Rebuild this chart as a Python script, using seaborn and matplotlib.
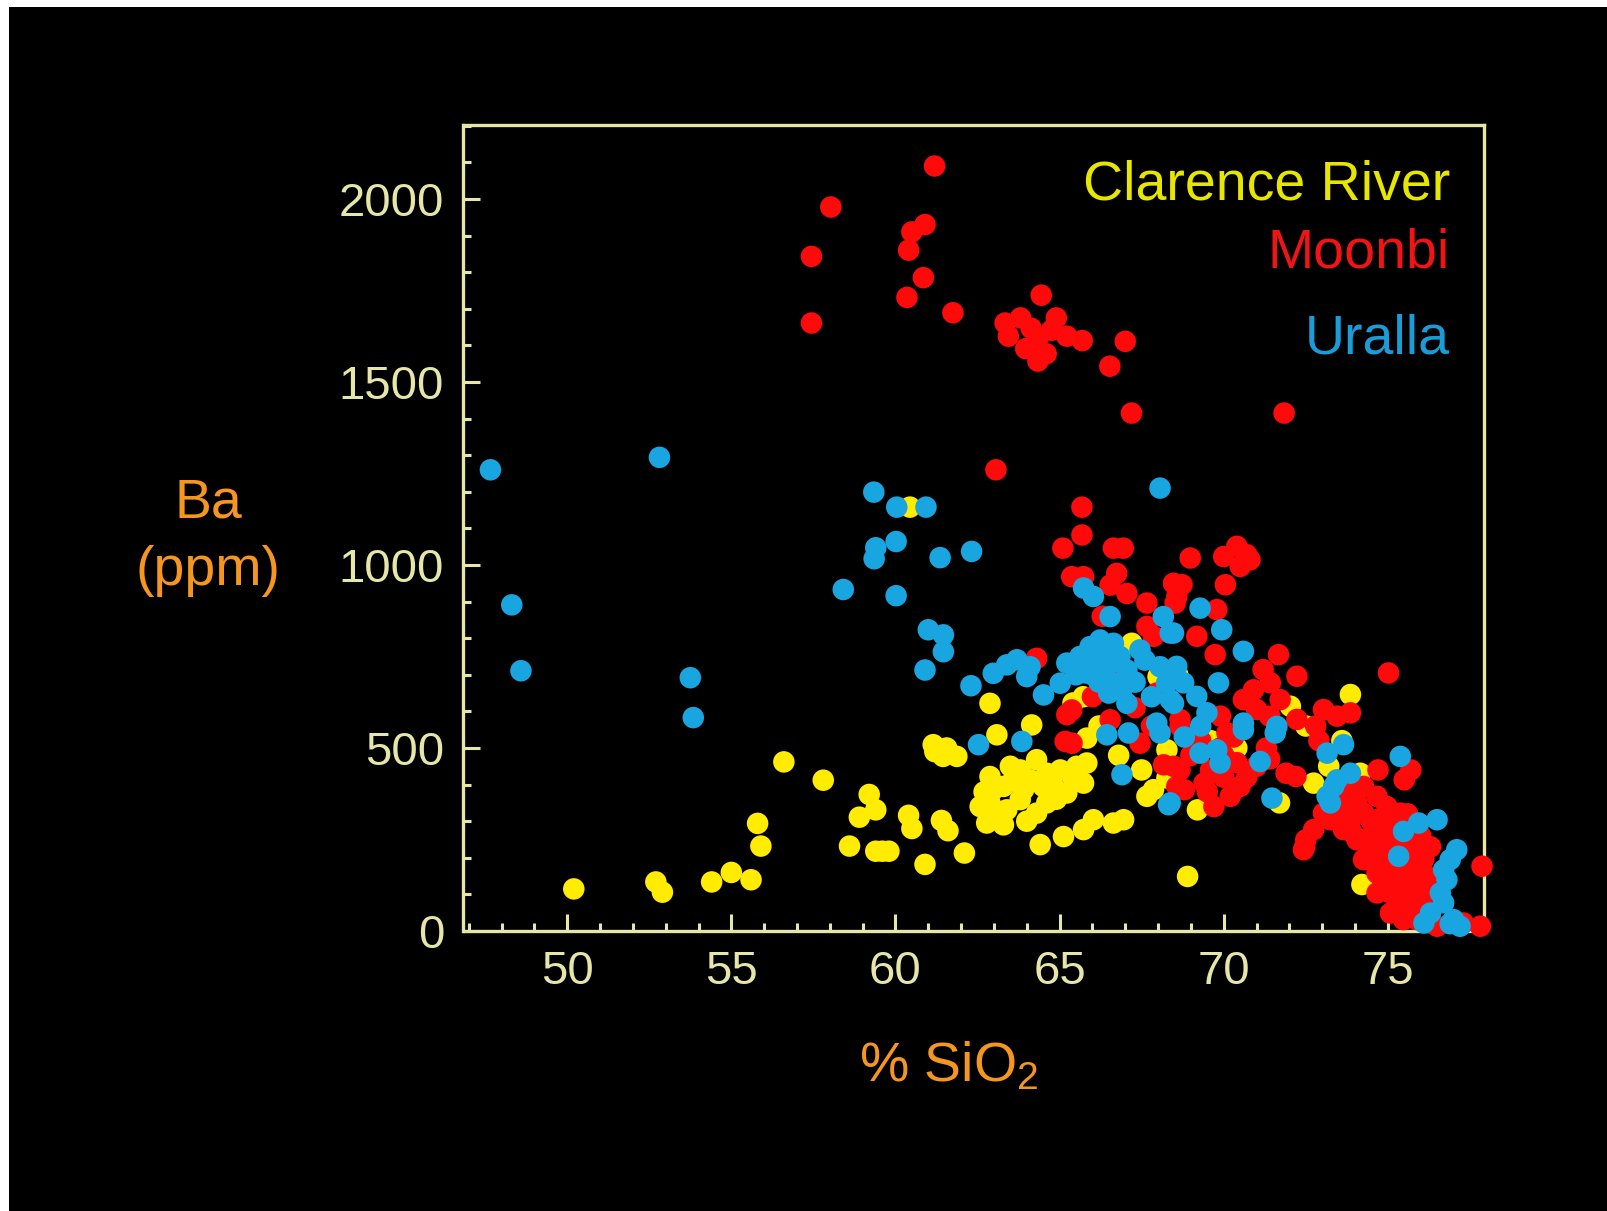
import numpy as np
import pandas as pd
import matplotlib
matplotlib.use("Agg")
import matplotlib.pyplot as plt
from matplotlib.patches import Rectangle
from matplotlib.ticker import MultipleLocator
import seaborn as sns

# ---------------- data ----------------
clarence_sio2 = [50.2, 52.7, 52.9, 54.4, 55.0, 55.6, 55.8, 55.9, 56.6, 57.8, 58.6, 58.9, 59.2, 59.4,
                 59.4, 59.6, 59.8, 60.4, 60.5, 60.9, 61.4, 61.6, 62.1, 60.44, 61.15, 61.56, 61.87, 61.45,
                 61.2, 63.09, 64.15, 62.88,
                 62.88, 63.29, 63.80, 64.30, 64.61, 65.02, 65.52, 65.73, 65.22, 64.61, 64.30, 63.80,
                 63.39, 62.88, 62.58, 62.78, 63.29, 63.90, 64.81, 65.83, 64.10, 62.98, 63.59, 63.1,
                 64.0, 64.9, 65.4, 62.7, 63.5, 64.5,
                 64.41, 65.12, 65.73, 66.03, 66.64, 66.95,
                 65.41, 65.72, 65.83, 67.2, 68.0, 67.5, 68.27, 67.66, 67.86, 68.27, 68.9, 69.2, 70.2,
                 71.7, 72.74, 72.03, 73.86, 74.16, 74.21, 73.6, 66.2, 66.8, 68.6, 69.6, 70.4, 72.5, 73.2]
clarence_ba = [115, 134, 106, 134, 160, 140, 294, 232, 462, 412, 232, 311, 373, 331,
               218, 218, 218, 316, 280, 182, 302, 274, 213, 1158, 509, 500, 477, 477,
               490, 536, 563, 622,
               422, 395, 440, 468, 431, 440, 450, 404, 377, 350, 322, 359,
               331, 350, 340, 295, 290, 386, 395, 459, 413, 386, 413, 310,
               300, 360, 420, 380, 450, 395,
               236, 258, 277, 304, 295, 304,
               623, 640, 527, 786, 695, 440, 495, 368, 386, 418, 149, 331, 468,
               350, 404, 614, 646, 431, 127, 520, 560, 480, 700, 520, 500, 560, 450]

moonbi_sio2 = [61.19, 58.03, 57.44, 57.44, 60.5, 60.9, 60.4, 60.85, 60.35, 61.75, 63.34, 63.44, 64.44,
               63.81, 64.13, 64.34, 64.75, 65.22, 65.69, 63.97, 64.34, 64.59, 64.9, 66.53, 67.0, 67.19,
               71.84, 63.06,
               65.68, 65.68, 65.10, 66.64, 66.94, 65.37, 65.73, 66.74, 66.54, 67.05, 67.66, 68.47, 68.57,
               67.86, 67.66, 64.3, 65.37, 66.54, 67.96, 65.22, 65.38, 65.17, 67.45, 68.17, 68.47, 68.57,
               68.98, 70.0, 70.4, 70.7, 70.5, 70.8, 68.73, 70.05, 68.52, 69.79, 69.18, 69.74, 71.67,
               71.2, 72.23, 71.42, 70.91, 70.6, 71.72, 75.02, 71.0, 71.4, 72.23, 73.04, 73.45, 73.86,
               68.67, 69.9, 68.67, 70.1, 68.67, 69.4, 69.7, 70.5, 70.2, 68.8, 71.9, 72.2, 74.7, 75.7,
               75.5, 72.74, 72.43, 72.5,
               73.65, 74.06, 74.47, 74.47, 74.87, 74.97, 75.28, 75.48, 74.67, 74.26, 74.06, 73.65,
               75.08, 75.89, 76.09, 75.68, 75.89, 75.48, 75.08, 76.09, 76.19, 75.89, 73.25, 73.04,
               73.45, 73.86, 74.26, 74.67, 74.97, 75.38, 75.68, 74.26, 74.67, 75.48, 75.89, 76.5,
               77.3, 77.87, 77.82, 74.47, 73.86, 74.87, 75.28, 74.67, 75.08, 75.58,
               69.0, 69.3, 69.6, 70.0, 70.4, 69.9, 70.3, 71.3, 71.0, 72.8, 72.9,
               66.3, 66.8, 67.3, 67.8, 66.0,
               75.2, 75.6, 76.0, 75.3, 75.8, 76.2, 74.8, 75.0, 75.9, 76.3, 74.3, 73.9, 75.5, 75.1,
               69.5, 70.7, 70.0, 71.4, 72.47]
moonbi_ba = [2090, 1978, 1843, 1661, 1910, 1930, 1860, 1785, 1731, 1689, 1661, 1625, 1737,
             1675, 1647, 1619, 1641, 1625, 1613, 1591, 1557, 1577, 1675, 1543, 1611, 1415,
             1415, 1260,
             1158, 1082, 1046, 1046, 1046, 968, 968, 977, 945, 922, 896, 950, 913,
             805, 832, 745, 604, 577, 650, 591, 513, 518, 513, 454, 450, 395,
             1019, 1023, 1051, 1028, 996, 1014, 946, 946, 896, 878, 805, 755, 755,
             714, 696, 678, 659, 632, 632, 705, 605, 587, 578, 605, 587, 596,
             578, 587, 559, 541, 440, 404, 340, 395, 368, 386, 431, 422, 440, 440,
             413, 277, 222, 249,
             277, 249, 258, 213, 195, 167, 140, 122, 304, 322, 350, 331,
             231, 240, 195, 167, 122, 86, 49, 86, 149, 213, 304, 322,
             368, 386, 395, 368, 340, 322, 277, 195, 158, 31, 31, 13,
             22, 177, 13, 304, 304, 277, 195, 104, 104, 231,
             480, 520, 440, 420, 460, 500, 530, 500, 450, 560, 520,
             860, 700, 610, 560, 640,
             300, 320, 260, 60, 60, 120, 230, 280, 170, 230, 250, 270, 190, 140,
             380, 420, 480, 470, 230]

uralla_sio2 = [47.66, 52.81, 48.31, 48.59, 53.75, 53.84, 58.41, 59.34, 60.04, 60.93, 60.02, 59.4, 59.35,
               61.36, 62.32, 60.02, 68.06, 61.0, 61.46, 61.46, 60.9, 62.3, 62.53, 63.85,
               62.98, 63.39, 63.70, 64.10, 64.0, 64.51, 65.02, 65.22, 65.62, 65.93, 66.23, 66.64, 66.84,
               66.44, 66.64, 67.05, 67.45, 67.6, 68.06, 68.47, 68.26, 68.47, 67.05, 66.54, 65.73, 66.03,
               68.16, 68.37, 66.0, 65.8, 67.96, 66.2, 66.4, 66.0, 66.7, 66.2, 66.5, 67.3, 65.5, 66.9, 67.8,
               66.44, 67.1, 68.06, 66.9, 68.32, 69.28, 69.94, 68.47, 70.6, 68.57, 68.78, 69.84, 69.18,
               69.49, 68.37, 70.6, 71.62, 70.6, 71.57, 69.28, 69.79, 69.89, 71.11, 68.37, 71.47, 73.15,
               73.65, 73.45, 73.86, 73.15, 73.25, 73.35, 75.38, 75.48, 75.94, 76.5, 75.33, 77.1, 76.9,
               76.7, 76.8, 76.6, 76.7, 76.3, 76.1, 77.0, 77.2, 76.9, 68.8, 69.3]
uralla_ba = [1260, 1294, 891, 711, 692, 583, 933, 1199, 1158, 1158, 1064, 1047, 1017,
             1020, 1037, 916, 1210, 823, 809, 763, 713, 670, 509, 518,
             704, 727, 741, 722, 695, 645, 677, 732, 750, 777, 795, 786, 750,
             722, 677, 713, 768, 740, 722, 713, 677, 622, 622, 859, 937, 914,
             859, 814, 700, 705, 568, 740, 760, 760, 740, 680, 650, 680, 700, 660, 640,
             536, 541, 541, 427, 345, 882, 823, 814, 764, 723, 678, 678, 641,
             596, 632, 568, 559, 550, 541, 486, 495, 459, 463, 350, 363, 486,
             509, 413, 431, 368, 350, 395, 477, 272, 295, 304, 204, 222, 195,
             167, 140, 104, 77, 49, 22, 31, 13, 20, 530, 560]

groups = ["Clarence River", "Moonbi", "Uralla"]
colors = ["#ffec00", "#ff0a0a", "#19a6e0"]
label_colors = ["#e6e600", "#f01414", "#1a9cd8"]

df = pd.concat([
    pd.DataFrame({"SiO2": clarence_sio2, "Ba": clarence_ba, "group": groups[0]}),
    pd.DataFrame({"SiO2": moonbi_sio2, "Ba": moonbi_ba, "group": groups[1]}),
    pd.DataFrame({"SiO2": uralla_sio2, "Ba": uralla_ba, "group": groups[2]}),
], ignore_index=True)

# ---------------- figure ----------------
plt.rcParams['font.family'] = ['Liberation Sans', 'DejaVu Sans']
plt.rcParams['mathtext.fontset'] = 'custom'
plt.rcParams['mathtext.rm'] = 'Liberation Sans'
plt.rcParams['mathtext.it'] = 'Liberation Sans'

W, H = 1608, 1211
fig = plt.figure(figsize=(W / 100, H / 100), dpi=100, facecolor="white")
fig.patches.append(Rectangle((9 / W, 0), 1 - 9 / W, 1 - 7 / H, transform=fig.transFigure,
                             facecolor="black", edgecolor="none", zorder=-10))

ax = fig.add_axes([463.5 / W, 1 - 931 / H, (1484 - 463.5) / W, (931 - 125) / H])
ax.set_facecolor("black")

sns.scatterplot(data=df, x="SiO2", y="Ba", hue="group", hue_order=groups,
                palette=dict(zip(groups, colors)), s=240, linewidth=0, alpha=1,
                legend=False, ax=ax, clip_on=False, zorder=3)

ax.set_xlim(46.84, 77.93)
ax.set_ylim(0, 2202)

frame = "#e6e6a8"
for sp in ax.spines.values():
    sp.set_color(frame)
    sp.set_linewidth(2.4)

ax.xaxis.set_major_locator(MultipleLocator(5))
ax.xaxis.set_minor_locator(MultipleLocator(1))
ax.yaxis.set_major_locator(MultipleLocator(500))
ax.yaxis.set_minor_locator(MultipleLocator(100))
ax.tick_params(which="both", direction="in", color=frame, width=2.2,
               top=False, right=False)
ax.tick_params(which="major", length=12, labelsize=34, labelcolor="#e6e6a8", pad=14)
ax.tick_params(which="minor", length=6)
ax.set_xlabel("")
ax.set_ylabel("")

orange = "#f5961e"
fig.text(208 / W, 1 - 504 / H, "Ba", ha="center", va="center", fontsize=40, color=orange)
fig.text(208 / W, 1 - 571 / H, "(ppm)", ha="center", va="center", fontsize=40, color=orange)
fig.text(949 / W, 1 - 1067 / H, r"% SiO$_2$", ha="center", va="center", fontsize=40, color=orange)

leg_y = [186, 253, 340]
for g, c, y in zip(groups, label_colors, leg_y):
    fig.text(1450 / W, 1 - y / H, g, ha="right", va="center", fontsize=40, color=c)

fig.savefig("out.png", dpi=100, facecolor=fig.get_facecolor())
